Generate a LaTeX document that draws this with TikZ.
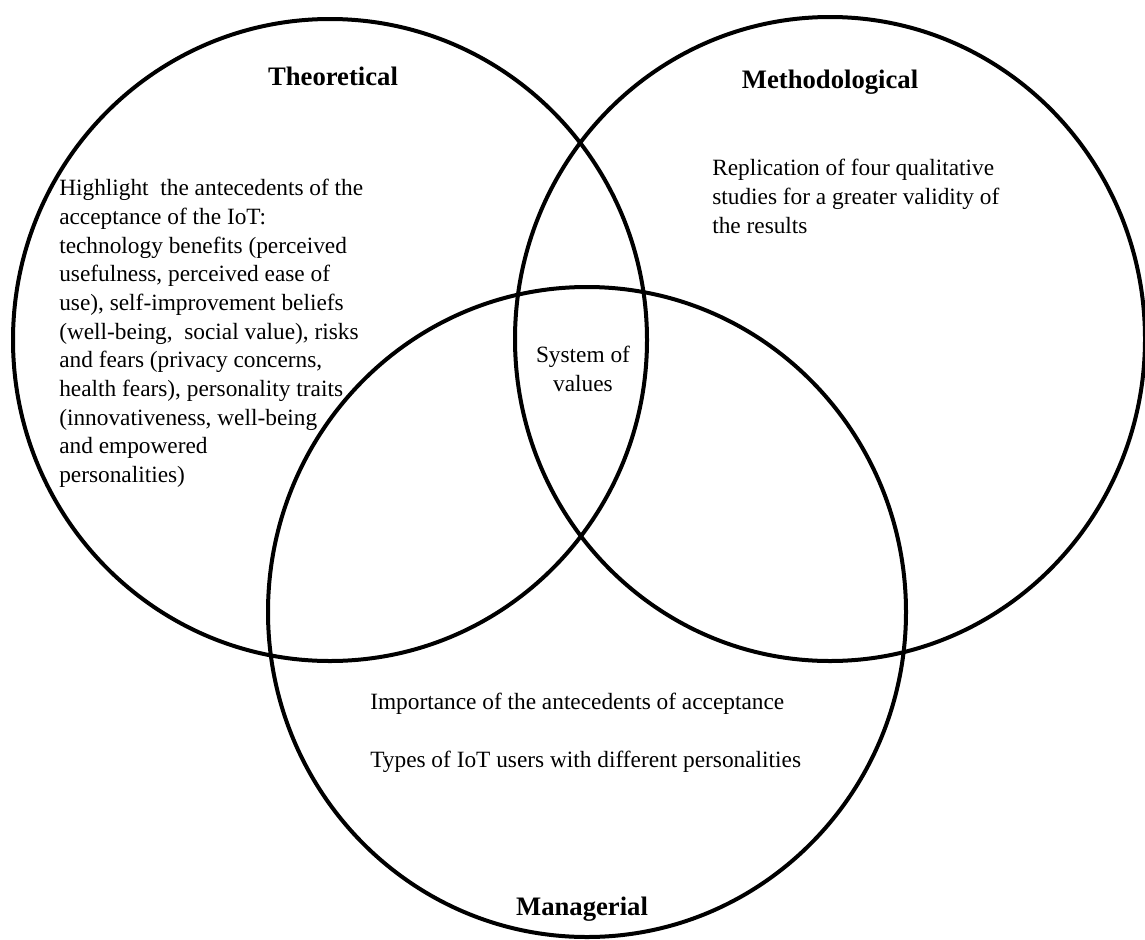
\documentclass[tikz,border=0pt]{standalone}
\usepackage{fontspec}
\setmainfont{Liberation Serif}
\begin{document}
\begin{tikzpicture}[x=0.75pt,y=-0.75pt,
  ring/.style={line width=3pt,draw=black},
  body/.style={inner sep=0pt,align=left,font=\fontsize{17.5}{21.5}\selectfont},
  heading/.style={inner sep=0pt,font=\fontsize{20}{24}\selectfont\bfseries}]
\useasboundingbox (0,0) rectangle (1145,939);
% three overlapping areas
\draw[ring] (330,340) ellipse [x radius=317, y radius=321];
\draw[ring] (830,339) ellipse [x radius=315, y radius=322];
\draw[ring] (587,612) ellipse [x radius=319, y radius=325];
% headings
\node[heading,anchor=base] (theo) at (333,85) {Theoretical};
\node[heading,anchor=base] (meth) at (830,88) {Methodological};
\node[heading,anchor=base] (mana) at (582,915) {Managerial};
% contents
\node[body,anchor=north west] (theotext) at (59,179) {Highlight\ \ the antecedents of the\\
acceptance of the IoT:\\
technology benefits (perceived\\
usefulness, perceived ease of\\
use), self-improvement beliefs\\
(well-being,\ \ social value), risks\\
and fears (privacy concerns,\\
health fears), personality traits\\
(innovativeness, well-being\\
and empowered\\
personalities)};
\node[body,anchor=north west] (methtext) at (712,159) {Replication of four qualitative\\
studies for a greater validity of\\
the results};
\node[body,align=center,anchor=north] (core) at (583,346) {System of\\values};
\node[body,anchor=north west] (manatext1) at (370,693) {Importance of the antecedents of acceptance};
\node[body,anchor=north west] (manatext2) at (370,751) {Types of IoT users with different personalities};
\end{tikzpicture}
\end{document}
